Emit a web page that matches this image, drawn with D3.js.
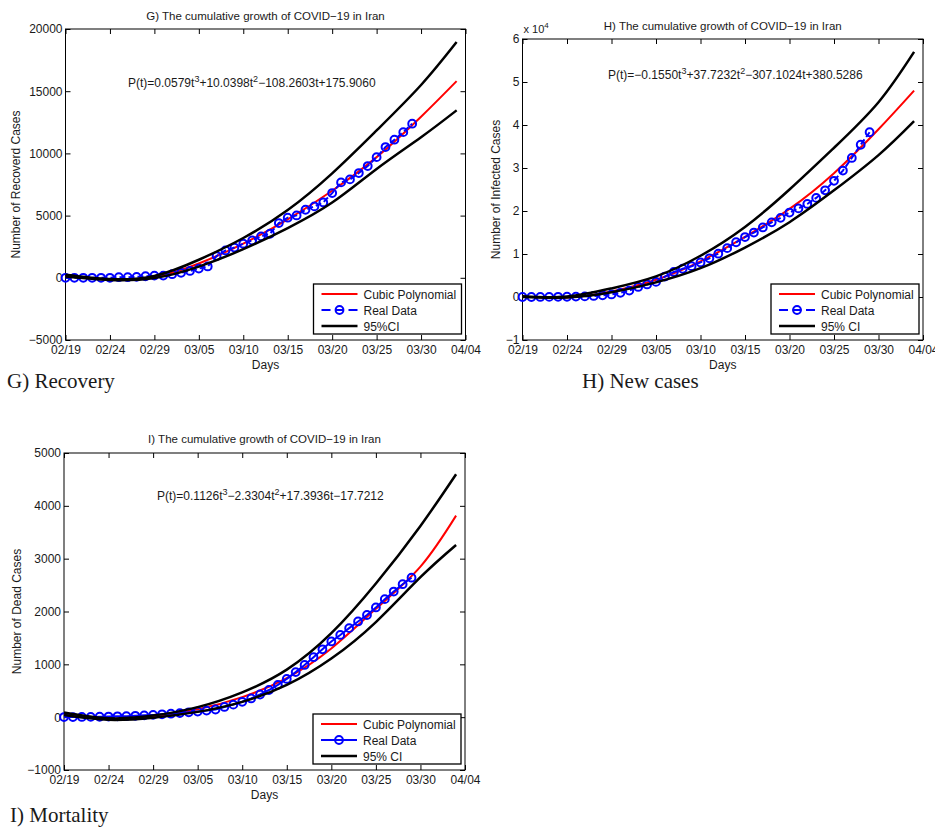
<!DOCTYPE html>
<html>
<head>
<meta charset="utf-8">
<script src="https://cdn.jsdelivr.net/npm/d3@7"></script>
<style>
  body { margin: 0; background: #fff; }
  text { font-family: "Liberation Sans", Arial, sans-serif; fill: #1a1a1a; }
</style>
</head>
<body>
<div class="chart"></div>
<script>
// x axis: days since 02/19
const tickDays = [0, 5, 10, 15, 20, 25, 30, 35, 40, 45]
const tickLabels = ['02/19', '02/24', '02/29', '03/05', '03/10', '03/15', '03/20', '03/25', '03/30', '04/04']
// real data, one value per day from 02/19 to 03/29
const dataDays = d3.range(40)
const recovered = [0, 0, 0, 0, 0, 0, 49, 49, 73, 123, 175, 175, 291, 400, 552, 739, 913, 1750, 2200, 2430,
  2740, 3000, 3330, 3540, 4400, 4830, 5015, 5470, 5740, 6060, 6810, 7670, 7910, 8420, 8980, 9700, 10510, 11100, 11710, 12390]
const infected = [2, 5, 18, 28, 43, 61, 95, 139, 245, 388, 593, 978, 1501, 2336, 2922, 3513, 4747, 5823, 6566, 7161,
  8042, 9000, 10075, 11364, 12729, 13938, 14991, 16169, 17361, 18407, 19644, 20610, 21638, 23049, 24811, 27017, 29406, 32332, 35408, 38309]
const deaths = [2, 2, 4, 5, 8, 12, 16, 19, 26, 34, 43, 54, 66, 77, 92, 107, 124, 145, 194, 237,
  291, 354, 429, 514, 611, 724, 853, 988, 1135, 1284, 1433, 1556, 1685, 1812, 1934, 2077, 2234, 2378, 2517, 2640]

// fitted curve and 95% CI at these days
const fitDays = [0, 5, 10, 15, 20, 25, 30, 35, 40, 44]
const recoveredFit = [170, -140, 60, 1150, 2750, 4700, 7000, 9700, 12950, 15810]
const recoveredUpper = [250, -100, 150, 1450, 3200, 5450, 8400, 11850, 15500, 18950]
const recoveredLower = [100, -180, -20, 900, 2300, 4000, 6050, 8750, 11300, 13460]
const infectedFit = [100, -100, 1300, 4000, 8300, 14000, 20500, 28800, 39000, 48000]
const infectedUpper = [200, 100, 2000, 4800, 9600, 16300, 25000, 34700, 45300, 57000]
const infectedLower = [0, -100, 1100, 3400, 6700, 11500, 17400, 24800, 33000, 40900]
const deathFit = [60, -30, 15, 150, 380, 740, 1300, 2050, 2850, 3815]
const deathUpper = [90, -20, 30, 190, 470, 900, 1590, 2530, 3620, 4598]
const deathLower = [40, -50, -10, 100, 290, 610, 1110, 1800, 2650, 3260]

const svg = d3.select('.chart')
  .append('svg')
  .attr('width', 935)
  .attr('height', 830)

const minus = d => (d < 0 ? '\u2212' + Math.abs(d) : '' + d)

const panels = [
  {
    box: { l: 65.5, r: 465.5, t: 29, b: 340 },
    yDomain: [-5000, 20000], yTicks: [-5000, 0, 5000, 10000, 15000, 20000], yFormat: minus,
    data: recovered, fit: recoveredFit, upper: recoveredUpper, lower: recoveredLower,
    title: 'G) The cumulative growth of COVID\u221219 in Iran', titleY: 19.5,
    eq: [['P(t)=0.0579t'], ['3', 1], ['+10.0398t'], ['2', 1], ['\u2212108.2603t+175.9060']], eqX: 128, eqY: 87,
    ylabel: 'Number of Recoverd Cases', ylabelX: 20,
    ci: '95%CI', dashed: true,
    caption: 'G) Recovery', capX: 7, capY: 388
  },
  {
    box: { l: 522.5, r: 923, t: 39, b: 340 },
    yDomain: [-10000, 60000], yTicks: [-10000, 0, 10000, 20000, 30000, 40000, 50000, 60000], yFormat: d => minus(d / 10000),
    data: infected, fit: infectedFit, upper: infectedUpper, lower: infectedLower,
    title: 'H) The cumulative growth of COVID\u221219 in Iran', titleY: 29.5,
    eq: [['P(t)=\u22120.1550t'], ['3', 1], ['+37.7232t'], ['2', 1], ['\u2212307.1024t+380.5286']], eqX: 608, eqY: 79,
    ylabel: 'Number of Infected Cases', ylabelX: 500,
    ci: '95% CI', dashed: true, scaleNote: true,
    caption: 'H) New cases', capX: 582, capY: 388
  },
  {
    box: { l: 64, r: 465, t: 453, b: 770 },
    yDomain: [-1000, 5000], yTicks: [-1000, 0, 1000, 2000, 3000, 4000, 5000], yFormat: minus,
    data: deaths, fit: deathFit, upper: deathUpper, lower: deathLower,
    title: 'I) The cumulative growth of COVID\u221219 in Iran', titleY: 443,
    eq: [['P(t)=0.1126t'], ['3', 1], ['\u22122.3304t'], ['2', 1], ['+17.3936t\u221217.7212']], eqX: 157, eqY: 500,
    ylabel: 'Number of Dead Cases', ylabelX: 21,
    ci: '95% CI', dashed: false,
    caption: 'I) Mortality', capX: 10, capY: 822
  }
]

function drawPanel(p) {
  const { l, r, t, b } = p.box
  const x = d3.scaleLinear().domain([0, 45]).range([l, r])
  const y = d3.scaleLinear().domain(p.yDomain).range([b, t])
  const g = svg.append('g')

  // 坐标轴 (MATLAB 风格: 刻度朝内, 四边都有)
  const styleAxis = sel => {
    sel.select('.domain').remove()
    sel.selectAll('line').attr('stroke', '#000')
    sel.selectAll('text').attr('font-size', '12px').style('fill', '#1a1a1a')
  }
  g.append('g').attr('transform', `translate(0,${b})`)
    .call(d3.axisBottom(x).tickValues(tickDays).tickFormat((d, i) => tickLabels[i]).tickSizeInner(-5).tickSizeOuter(0).tickPadding(5))
    .call(styleAxis)
    .attr('font-family', null)
  g.append('g').attr('transform', `translate(0,${t})`)
    .call(d3.axisTop(x).tickValues(tickDays).tickFormat('').tickSizeInner(-5).tickSizeOuter(0))
    .call(styleAxis)
  g.append('g').attr('transform', `translate(${l},0)`)
    .call(d3.axisLeft(y).tickValues(p.yTicks).tickFormat(p.yFormat).tickSizeInner(-5).tickSizeOuter(0).tickPadding(3))
    .call(styleAxis)
    .attr('font-family', null)
  g.append('g').attr('transform', `translate(${r},0)`)
    .call(d3.axisRight(y).tickValues(p.yTicks).tickFormat('').tickSizeInner(-5).tickSizeOuter(0))
    .call(styleAxis)

  g.append('rect')
    .attr('x', l).attr('y', t).attr('width', r - l).attr('height', b - t)
    .attr('fill', 'none').attr('stroke', '#000').attr('stroke-width', 1)

  const line = d3.line()
    .x(d => x(d[0]))
    .y(d => y(d[1]))
    .curve(d3.curveNatural)

  const plot = g.append('g')
  plot.append('path')
    .datum(fitDays.map((d, i) => [d, p.fit[i]]))
    .attr('d', line).attr('fill', 'none').attr('stroke', '#ff0000').attr('stroke-width', 2)

  const pts = dataDays.map((d, i) => [d, p.data[i]])
  plot.append('path')
    .datum(pts)
    .attr('d', d3.line().x(d => x(d[0])).y(d => y(d[1])))
    .attr('fill', 'none').attr('stroke', '#0000ff').attr('stroke-width', 2)
    .attr('stroke-dasharray', p.dashed ? '6,3' : null)
  plot.selectAll('circle.pt')
    .data(pts)
    .enter()
    .append('circle')
    .attr('class', 'pt')
    .attr('cx', d => x(d[0]))
    .attr('cy', d => y(d[1]))
    .attr('r', 3.9)
    .attr('fill', 'none').attr('stroke', '#0000ff').attr('stroke-width', 2)

  ;[p.upper, p.lower].forEach(arr => {
    plot.append('path')
      .datum(fitDays.map((d, i) => [d, arr[i]]))
      .attr('d', line).attr('fill', 'none').attr('stroke', '#000').attr('stroke-width', 2.5)
  })

  // 标题 & 注记
  const cx = (l + r) / 2
  g.append('text').attr('x', cx).attr('y', p.titleY)
    .attr('text-anchor', 'middle').attr('font-size', '11.5px').text(p.title)
  g.append('text').attr('x', cx).attr('y', b + 29)
    .attr('text-anchor', 'middle').attr('font-size', '12px').text('Days')
  g.append('text')
    .attr('transform', `translate(${p.ylabelX},${(t + b) / 2}) rotate(-90)`)
    .attr('text-anchor', 'middle').attr('font-size', '12px').text(p.ylabel)

  const eq = g.append('text').attr('x', p.eqX).attr('y', p.eqY).attr('font-size', '12px')
  p.eq.forEach(([s, sup], i) => {
    const prevSup = i > 0 && p.eq[i - 1][1]
    eq.append('tspan')
      .attr('dy', sup ? -5 : (prevSup ? 5 : 0))
      .attr('font-size', sup ? '9px' : null)
      .text(s)
  })

  if (p.scaleNote) {
    const n = g.append('text').attr('x', l + 1).attr('y', t - 6).attr('font-size', '11px')
    n.append('tspan').text('x 10')
    n.append('tspan').attr('dy', -5).attr('font-size', '8px').text('4')
  }

  // 图例
  const lw = 148, lh = 50
  const lx = r - lw - 4, ly = b - lh - 6
  const lg = g.append('g').attr('transform', `translate(${lx},${ly})`)
  lg.append('rect').attr('width', lw).attr('height', lh)
    .attr('fill', '#fff').attr('stroke', '#000').attr('stroke-width', 1.3)
  const rows = [
    { label: 'Cubic Polynomial', color: '#ff0000', w: 2 },
    { label: 'Real Data', color: '#0000ff', w: 2, marker: true },
    { label: p.ci, color: '#000', w: 2.5 }
  ]
  rows.forEach((row, i) => {
    const ry = 10 + i * 16
    lg.append('line').attr('x1', 8).attr('x2', 44).attr('y1', ry).attr('y2', ry)
      .attr('stroke', row.color).attr('stroke-width', row.w)
      .attr('stroke-dasharray', row.marker && p.dashed ? '9,4.5' : null)
    if (row.marker) {
      lg.append('circle').attr('cx', 26).attr('cy', ry).attr('r', 3.9)
        .attr('fill', 'none').attr('stroke', row.color).attr('stroke-width', 2)
    }
    lg.append('text').attr('x', 50).attr('y', ry + 4.5).attr('font-size', '12px').text(row.label)
  })

  svg.append('text').attr('x', p.capX).attr('y', p.capY)
    .style('font-family', '"Liberation Serif", "Times New Roman", serif')
    .attr('font-size', '21px').text(p.caption)
}

panels.forEach(drawPanel)
</script>
</body>
</html>
